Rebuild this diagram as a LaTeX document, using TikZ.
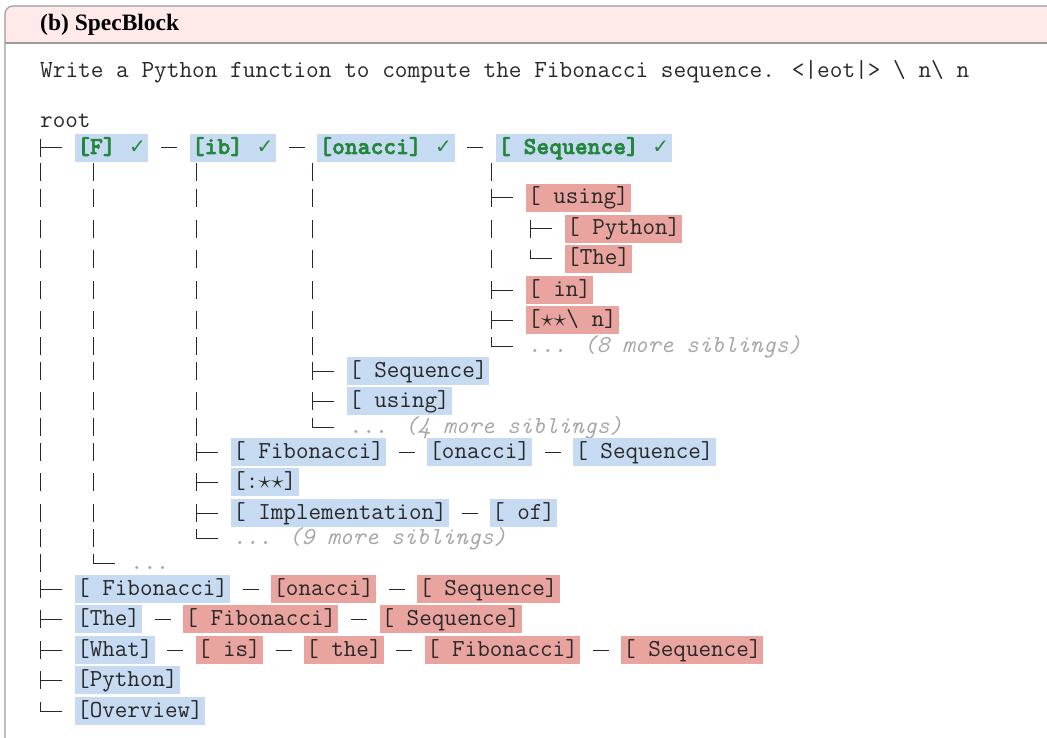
\documentclass[tikz,border=0pt]{standalone}
\usepackage{fontspec}
\setmainfont{Liberation Serif}
\newfontfamily\symfont{DejaVu Sans}
\newfontfamily\ttbf{lmmonolt10-bold}[Extension=.otf, FakeBold=2.5]
\usetikzlibrary{positioning,calc}

\definecolor{tokblue}{RGB}{198,219,242}
\definecolor{tokred}{RGB}{234,164,160}
\definecolor{okgreen}{RGB}{36,134,60}
\definecolor{headpink}{RGB}{255,233,233}
\definecolor{framegray}{RGB}{155,155,155}
\definecolor{notegray}{RGB}{168,168,168}
\definecolor{inkgray}{RGB}{40,40,40}

\newcommand{\chk}{\makebox[18pt][c]{\symfont\fontsize{20pt}{20pt}\selectfont ✓}}
\newcommand{\tstar}{\makebox[12.8pt][c]{$\star$}}
%tree glyphs: column, child node
\newcommand{\tee}[2]{%
  \draw[treeline] ($(#1 |- #2.west)+(0,-9)$) -- ++(0,18)
    (#1 |- #2.west) -- ([xshift=-13pt]#2.west);}
\newcommand{\elbow}[2]{%
  \draw[treeline] ($(#1 |- #2.west)+(0,-9)$) -- (#1 |- #2.west) -- ([xshift=-13pt]#2.west);}

\tikzset{
  tok/.style={font=\ttfamily\fontsize{24.4pt}{26pt}\selectfont, text=inkgray,
    inner xsep=2pt, inner ysep=3pt, text height=17pt, text depth=5pt, anchor=west},
  plain/.style={tok, inner xsep=0pt},
  hit/.style={tok, fill=tokblue},
  miss/.style={tok, fill=tokred},
  ok/.style={hit, text=okgreen, font=\ttbf\fontsize{24.4pt}{26pt}\selectfont},
  note/.style={tok, text=notegray, font=\ttfamily\itshape\fontsize{24.4pt}{26pt}\selectfont},
  treeline/.style={draw=inkgray, line width=1pt},
  link/.style={draw=inkgray, line width=1pt, shorten <=12.5pt, shorten >=12.5pt}
}

\begin{document}
\begin{tikzpicture}[x=1pt, y=-1pt]
	\useasboundingbox (0,0) rectangle (1047,738);
	\clip (0,0) rectangle (1047,738);
	%frame
	\fill[headpink] (5,43) -- (5,14) arc[start angle=180, end angle=270, radius=8] -- (1060,6) -- (1060,43) -- cycle;
	\draw[framegray, line width=1.2pt] (5,760) -- (5,14) arc[start angle=180, end angle=270, radius=8] -- (1060,6);
	\draw[framegray, line width=1.2pt] (5,43) -- (1060,43);
	\node[anchor=west, inner sep=0pt, font=\bfseries\fontsize{23.5pt}{26pt}\selectfont] (title) at (40,24.5) {(b) SpecBlock};
	%prompt
	\node[plain, font=\ttfamily\fontsize{24.6pt}{26pt}\selectfont] (prompt) at (40,72) {Write a Python function to compute the Fibonacci sequence. <|eot|> \textbackslash{} n\textbackslash{} n};
	\node[plain] (root) at (40,122) {root};
	%columns
	\coordinate (c0) at (40,0);
	\coordinate (cF) at (93,0);
	\coordinate (cIb) at (196,0);
	\coordinate (cOn) at (312,0);
	\coordinate (cSeq) at (491,0);
	\coordinate (cUse) at (530,0);
	%accepted path
	\node[ok] (f) at (75,148) {[F] \chk};
	\node[ok, right=41pt of f] (ib) {[ib] \chk};
	\node[ok, right=41pt of ib] (onacci) {[onacci] \chk};
	\node[ok, right=41pt of onacci] (seq) {[ Sequence] \chk};
	%under [ Sequence]
	\node[miss] (using) at (526,198) {[ using]};
	\node[miss] (python) at (565,229) {[ Python]};
	\node[miss] (the) at (565,259) {[The]};
	\node[miss] (in) at (526,290) {[ in]};
	\node[miss] (stars) at (526,320) {[\tstar\tstar\textbackslash{} n]};
	\node[note] (more8) at (526,346) {... (8 more siblings)};
	%under [onacci]
	\node[hit] (seqB) at (347,371) {[ Sequence]};
	\node[hit] (usingB) at (347,401) {[ using]};
	\node[note] (more4) at (347,427) {... (4 more siblings)};
	%under [ib]
	\node[hit] (fibC) at (231,452) {[ Fibonacci]};
	\node[hit, right=41pt of fibC] (onacciC) {[onacci]};
	\node[hit, right=41pt of onacciC] (seqC) {[ Sequence]};
	\node[hit] (colon) at (231,482) {[:\tstar\tstar]};
	\node[hit] (impl) at (231,513) {[ Implementation]};
	\node[hit, right=41pt of impl] (of) {[ of]};
	\node[note] (more9) at (231,538) {... (9 more siblings)};
	%under [F]
	\node[note] (dotsF) at (128,563) {...};
	%other root children
	\node[hit] (fibD) at (75,589) {[ Fibonacci]};
	\node[miss, right=41pt of fibD] (onacciD) {[onacci]};
	\node[miss, right=41pt of onacciD] (seqD) {[ Sequence]};
	\node[hit] (theE) at (75,619) {[The]};
	\node[miss, right=41pt of theE] (fibE) {[ Fibonacci]};
	\node[miss, right=41pt of fibE] (seqE) {[ Sequence]};
	\node[hit] (what) at (75,650) {[What]};
	\node[miss, right=41pt of what] (is) {[ is]};
	\node[miss, right=41pt of is] (theF) {[ the]};
	\node[miss, right=41pt of theF] (fibF) {[ Fibonacci]};
	\node[miss, right=41pt of fibF] (seqF) {[ Sequence]};
	\node[hit] (pyG) at (75,680) {[Python]};
	\node[hit] (overview) at (75,711) {[Overview]};
	%links
	\draw[link] (f) -- (ib);
	\draw[link] (ib) -- (onacci);
	\draw[link] (onacci) -- (seq);
	\draw[link] (fibC) -- (onacciC);
	\draw[link] (onacciC) -- (seqC);
	\draw[link] (impl) -- (of);
	\draw[link] (fibD) -- (onacciD);
	\draw[link] (onacciD) -- (seqD);
	\draw[link] (theE) -- (fibE);
	\draw[link] (fibE) -- (seqE);
	\draw[link] (what) -- (is);
	\draw[link] (is) -- (theF);
	\draw[link] (theF) -- (fibF);
	\draw[link] (fibF) -- (seqF);
	%bars
	\foreach \y in {172,198,229,259,290,320,346,371,401,427,452,482,513,538,563}
	\draw[treeline] (40,\y-9) -- ++(0,18);
	\foreach \y in {172,198,229,259,290,320,346,371,401,427,452,482,513,538}
	\draw[treeline] (93,\y-9) -- ++(0,18);
	\foreach \y in {172,198,229,259,290,320,346,371,401,427}
	\draw[treeline] (196,\y-9) -- ++(0,18);
	\foreach \y in {172,198,229,259,290,320,346}
	\draw[treeline] (312,\y-9) -- ++(0,18);
	\foreach \y in {172,229,259}
	\draw[treeline] (491,\y-9) -- ++(0,18);
	%branches
	\tee{c0}{f}
	\elbow{cF}{dotsF}
	\tee{cIb}{fibC}
	\tee{cIb}{colon}
	\tee{cIb}{impl}
	\elbow{cIb}{more9}
	\tee{cOn}{seqB}
	\tee{cOn}{usingB}
	\elbow{cOn}{more4}
	\tee{cSeq}{using}
	\tee{cUse}{python}
	\elbow{cUse}{the}
	\tee{cSeq}{in}
	\tee{cSeq}{stars}
	\elbow{cSeq}{more8}
	\tee{c0}{fibD}
	\tee{c0}{theE}
	\tee{c0}{what}
	\tee{c0}{pyG}
	\elbow{c0}{overview}
\end{tikzpicture}
\end{document}
